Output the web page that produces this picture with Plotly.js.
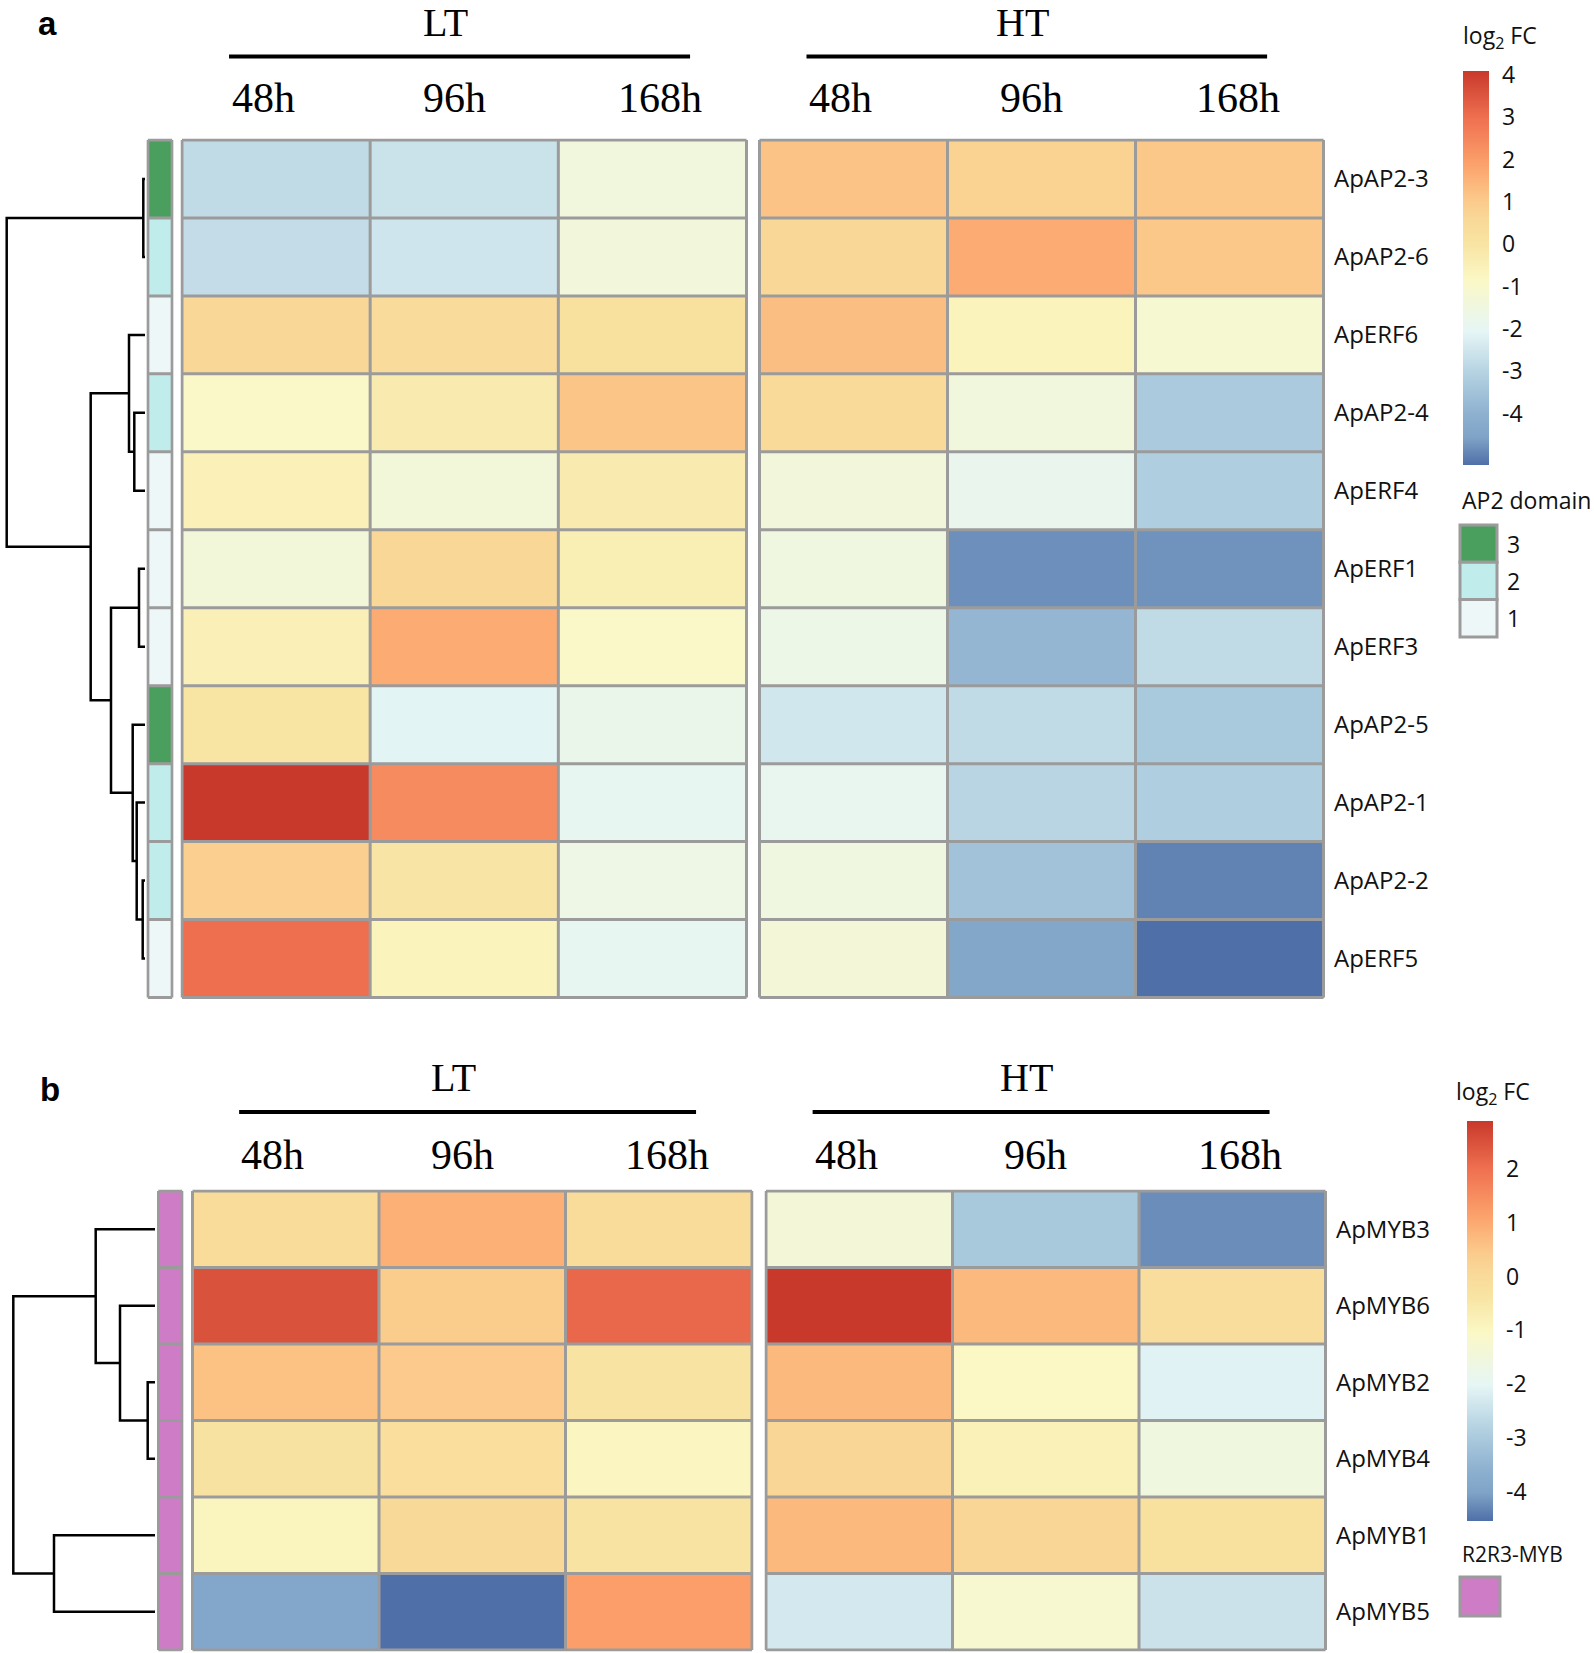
<!DOCTYPE html>
<html>
<head>
<meta charset="utf-8">
<script src="https://cdn.plot.ly/plotly-3.0.1.min.js"></script>
<style>
  body { margin: 0; background: #fff; }
  #chart { width: 1594px; height: 1653px; }
</style>
</head>
<body>
<div id="chart"></div>
<script>
// ---- data ----
const times = ['48h', '96h', '168h'];
const groups = ['LT', 'HT'];

// panel a: AP2/ERF genes, rows in dendrogram order
const genesA = ['ApAP2-3', 'ApAP2-6', 'ApERF6', 'ApAP2-4', 'ApERF4', 'ApERF1', 'ApERF3', 'ApAP2-5', 'ApAP2-1', 'ApAP2-2', 'ApERF5'];
const domainA = [3, 2, 1, 2, 1, 1, 1, 3, 2, 2, 1];
const ltA = [
  [-2.8, -2.6, -1.4],
  [-2.75, -2.5, -1.35],
  [0.6, 0.4, 0.2],
  [-0.9, -0.3, 1.15],
  [-0.5, -1.3, -0.3],
  [-1.3, 0.6, -0.4],
  [-0.45, 1.7, -0.9],
  [0.0, -2.1, -1.75],
  [4.1, 2.4, -1.9],
  [0.9, -0.05, -1.6],
  [3.0, -0.6, -1.9]
];
const htA = [
  [1.2, 0.75, 1.1],
  [0.6, 1.7, 1.1],
  [1.3, -0.6, -1.1],
  [0.5, -1.4, -3.25],
  [-1.35, -1.8, -3.15],
  [-1.5, -4.8, -4.75],
  [-1.65, -3.85, -2.8],
  [-2.45, -2.8, -3.3],
  [-1.85, -2.95, -3.15],
  [-1.5, -3.5, -4.95],
  [-1.25, -4.4, -5.2]
];
// hclust style merges: negative = leaf (1-based), positive = earlier merge
const mergeA = [[-1, -2], [-4, -5], [-3, 2], [-6, -7], [-10, -11], [-9, 5], [-8, 6], [4, 7], [3, 8], [1, 9]];
const heightA = [1.7, 10.7, 16, 6, 2.3, 8.3, 12.3, 34, 54.3, 138.3];

// panel b: R2R3-MYB genes
const genesB = ['ApMYB3', 'ApMYB6', 'ApMYB2', 'ApMYB4', 'ApMYB1', 'ApMYB5'];
const domainB = [1, 1, 1, 1, 1, 1];
const ltB = [
  [0.0, 0.9, 0.0],
  [2.5, 0.4, 2.15],
  [0.6, 0.45, -0.35],
  [-0.3, -0.15, -0.95],
  [-0.9, 0.05, -0.35],
  [-3.9, -4.55, 1.2]
];
const htB = [
  [-1.4, -3.05, -4.25],
  [2.9, 0.75, -0.1],
  [0.75, -1.05, -2.1],
  [0.15, -0.8, -1.55],
  [0.75, 0.15, -0.2],
  [-2.3, -1.25, -2.45]
];
const mergeB = [[-3, -4], [-2, 1], [-1, 2], [-5, -6], [3, 4]];
const heightB = [7.3, 35, 59.3, 101, 141.7];

const ticksA = [-4, -3, -2, -1, 0, 1, 2, 3, 4];
const ticksB = [-4, -3, -2, -1, 0, 1, 2];

// ---- styling ----
const W = 1594, H = 1653;
const fx = v => v / W, fy = v => 1 - v / H;
const gridColor = '#9b9b9b';
const sans = 'Open Sans, Noto Sans, sans-serif';
const serif = 'Liberation Serif, Times New Roman, serif';
const timeShift = [-13, -10, 8];   // header labels sit a bit off the column centres
const groupShift = -19;

// muted RdYlBu ramp as seen in the figure
const palette = [
  [0, '#4f6fa8'], [0.07, '#7fa3c7'], [0.13, '#8eb1d0'], [0.23, '#b3d1e1'],
  [0.34, '#e6f6f6'], [0.47, '#fbf8c6'], [0.56, '#f8e4a3'], [0.62, '#f9d998'],
  [0.67, '#fbcb8c'], [0.76, '#fca36c'], [0.88, '#ef7050'], [1, '#c8392b']
];

const traces = [];
const layout = {
  width: W, height: H,
  margin: { l: 0, r: 0, t: 0, b: 0 },
  paper_bgcolor: '#fff', plot_bgcolor: '#fff',
  showlegend: false,
  shapes: [], annotations: []
};

const axName = n => (n === 1 ? '' : String(n));

function gridShapes(xref, yref, ncol, nrow) {
  const s = [];
  const line = { color: gridColor, width: 3 };
  for (let i = 0; i <= ncol; i++) {
    s.push({ type: 'line', xref, yref, x0: i - 0.5, x1: i - 0.5, y0: -0.5, y1: nrow - 0.5, line });
  }
  for (let j = 0; j <= nrow; j++) {
    s.push({ type: 'line', xref, yref, x0: -0.5, x1: ncol - 0.5, y0: j - 0.5, y1: j - 0.5, line });
  }
  return s;
}

// dendrogram as one broken line trace
function dendroXY(merge, heights) {
  const ys = [], hs = [];
  const pos = c => (c < 0 ? [-c - 1, 0] : [ys[c - 1], hs[c - 1]]);
  const x = [], y = [];
  merge.forEach((m, k) => {
    const [y1, h1] = pos(m[0]);
    const [y2, h2] = pos(m[1]);
    const h = heights[k];
    x.push(h1, h, h, h2, null);
    y.push(y1, y1, y2, y2, null);
    ys.push((y1 + y2) / 2);
    hs.push(h);
  });
  return { x, y };
}

function catScale(colors) {
  const keys = Object.keys(colors).map(Number).sort((a, b) => a - b);
  const lo = keys[0] - 0.5, hi = keys[keys.length - 1] + 0.5;
  const cs = [];
  keys.forEach(k => {
    cs.push([(k - 0.5 - lo) / (hi - lo), colors[k]]);
    cs.push([(k + 0.5 - lo) / (hi - lo), colors[k]]);
  });
  return { cs, lo, hi };
}

function buildPanel(p) {
  const n = p.genes.length;
  const g = p.geom;
  const idx = p.genes.map((_, i) => i);
  const rowH = (g.bottom - g.top) / n;
  const yPad = 1.5 / rowH;
  const yId = 'y' + axName(p.y);
  const xIds = p.x.map(k => 'x' + axName(k));

  layout['yaxis' + axName(p.y)] = {
    domain: [fy(g.bottom), fy(g.top)],
    range: [n - 0.5 + yPad, -0.5 - yPad],
    anchor: xIds[3], side: 'right',
    tickvals: idx, ticktext: p.genes, ticks: '', ticklabelstandoff: 8,
    tickfont: { family: sans, size: 24, color: '#111' },
    showgrid: false, zeroline: false, showline: false, fixedrange: true
  };

  const spans = [g.dendro, g.bar, g.left, g.right];
  const ncols = [null, 1, 3, 3];
  spans.forEach((s, k) => {
    let range;
    if (k === 0) range = [s[1] - s[0], 0];
    else {
      const pad = 1.5 / ((s[1] - s[0]) / ncols[k]);
      range = [-0.5 - pad, ncols[k] - 0.5 + pad];
    }
    layout['xaxis' + axName(p.x[k])] = {
      domain: [fx(s[0]), fx(s[1])], range, anchor: yId,
      visible: false, fixedrange: true
    };
  });

  // dendrogram
  const d = dendroXY(p.merge, p.heights);
  traces.push({
    type: 'scatter', mode: 'lines', x: d.x, y: d.y, xaxis: xIds[0], yaxis: yId,
    line: { color: '#000', width: 2.5 }, hoverinfo: 'skip', connectgaps: false
  });

  // annotation bar
  const cat = catScale(p.barColors);
  traces.push({
    type: 'heatmap', z: p.domain.map(v => [v]), x: [0], y: idx,
    xaxis: xIds[1], yaxis: yId, colorscale: cat.cs, zmin: cat.lo, zmax: cat.hi,
    showscale: false, hoverinfo: 'skip'
  });
  layout.shapes.push(...gridShapes(xIds[1], yId, 1, n));

  // expression blocks
  const all = p.lt.flat().concat(p.ht.flat());
  [p.lt, p.ht].forEach((z, b) => {
    traces.push({
      type: 'heatmap', z, x: [0, 1, 2], y: idx, xaxis: xIds[2 + b], yaxis: yId,
      coloraxis: p.coloraxis, hoverinfo: 'skip'
    });
    layout.shapes.push(...gridShapes(xIds[2 + b], yId, 3, n));
    layout.annotations.push({
      xref: xIds[2 + b], yref: 'paper', x: 1, y: fy(p.hdr.group), text: groups[b], xshift: groupShift,
      showarrow: false, yanchor: 'middle', font: { family: serif, size: 40, color: '#000' }
    });
    layout.shapes.push({
      type: 'line', xref: xIds[2 + b], yref: 'paper', x0: -0.25, x1: 2.2,
      y0: fy(p.hdr.line), y1: fy(p.hdr.line), line: { color: '#000', width: 4 }
    });
    times.forEach((t, i) => {
      layout.annotations.push({
        xref: xIds[2 + b], yref: 'paper', x: i, y: fy(p.hdr.time), text: t, xshift: timeShift[i],
        showarrow: false, yanchor: 'middle', font: { family: serif, size: 42, color: '#000' }
      });
    });
  });

  // colour bar
  const cb = p.cbar;
  layout[p.coloraxis] = {
    colorscale: palette, cmin: Math.min(...all), cmax: Math.max(...all),
    colorbar: {
      x: fx(cb.x), xanchor: 'left', y: fy(cb.top), yanchor: 'top',
      len: cb.bottom - cb.top, lenmode: 'pixels', thickness: 26, thicknessmode: 'pixels',
      xpad: 0, ypad: 0, outlinewidth: 0,
      tickvals: p.ticks, ticktext: p.ticks.map(String),
      ticks: 'outside', ticklen: 9, tickcolor: 'rgba(0,0,0,0)',
      tickfont: { family: sans, size: 23, color: '#111' }
    }
  };
  layout.annotations.push({
    xref: 'paper', yref: 'paper', x: fx(cb.titleX), y: fy(cb.titleY), xanchor: 'left', yanchor: 'middle',
    text: 'log<sub>2</sub> FC', showarrow: false, font: { family: sans, size: 23, color: '#111' }
  });

  // panel letter
  layout.annotations.push({
    xref: 'paper', yref: 'paper', x: fx(p.letter[1]), y: fy(p.letter[2]), xanchor: 'center', yanchor: 'middle',
    text: '<b>' + p.letter[0] + '</b>', showarrow: false,
    font: { family: 'Liberation Sans, Arial, sans-serif', size: 33, color: '#000' }
  });

  // category legend
  const lg = p.legend;
  layout.annotations.push({
    xref: 'paper', yref: 'paper', x: fx(lg.x), y: fy(lg.titleY), xanchor: 'left', yanchor: 'middle',
    text: lg.title, showarrow: false, font: { family: sans, size: lg.titleSize, color: '#111' }
  });
  lg.keys.forEach((k, i) => {
    const y0 = lg.top + i * lg.h;
    layout.shapes.push({
      type: 'rect', xref: 'paper', yref: 'paper', x0: fx(lg.x), x1: fx(lg.x + lg.w),
      y0: fy(y0), y1: fy(y0 + lg.h), fillcolor: p.barColors[k], line: { color: gridColor, width: 3 }
    });
    if (lg.showKeys) {
      layout.annotations.push({
        xref: 'paper', yref: 'paper', x: fx(lg.x + lg.w + 8), y: fy(y0 + lg.h / 2), xanchor: 'left', yanchor: 'middle',
        text: String(k), showarrow: false, font: { family: sans, size: 23, color: '#111' }
      });
    }
  });
}

buildPanel({
  genes: genesA, domain: domainA, lt: ltA, ht: htA, merge: mergeA, heights: heightA,
  barColors: { 1: '#eef7f8', 2: '#c1ecec', 3: '#4a9f5f' },
  x: [1, 2, 3, 4], y: 1, coloraxis: 'coloraxis', ticks: ticksA,
  geom: { top: 138.5, bottom: 999, dendro: [0, 145], bar: [146.5, 173.5], left: [180.5, 748], right: [758, 1325] },
  hdr: { group: 22.5, line: 56.5, time: 98.5 },
  cbar: { x: 1463, top: 70.5, bottom: 464.5, titleX: 1461, titleY: 36 },
  letter: ['a', 47, 24],
  legend: { title: 'AP2 domain', titleSize: 23, titleY: 500, x: 1460, w: 37, top: 525, h: 37.3, keys: [3, 2, 1], showKeys: true }
});

buildPanel({
  genes: genesB, domain: domainB, lt: ltB, ht: htB, merge: mergeB, heights: heightB,
  barColors: { 1: '#cf7cc6' },
  x: [5, 6, 7, 8], y: 2, coloraxis: 'coloraxis2', ticks: ticksB,
  geom: { top: 1189.5, bottom: 1651.5, dendro: [0, 155], bar: [157, 183.5], left: [191, 753.5], right: [764.5, 1327] },
  hdr: { group: 1077, line: 1112, time: 1155 },
  cbar: { x: 1467, top: 1121, bottom: 1521, titleX: 1454, titleY: 1092 },
  letter: ['b', 50, 1089],
  legend: { title: 'R2R3-MYB', titleSize: 21, titleY: 1554, x: 1460, w: 40, top: 1577, h: 39, keys: [1], showKeys: false }
});

Plotly.newPlot('chart', traces, layout, { staticPlot: true, displayModeBar: false });
</script>
</body>
</html>
